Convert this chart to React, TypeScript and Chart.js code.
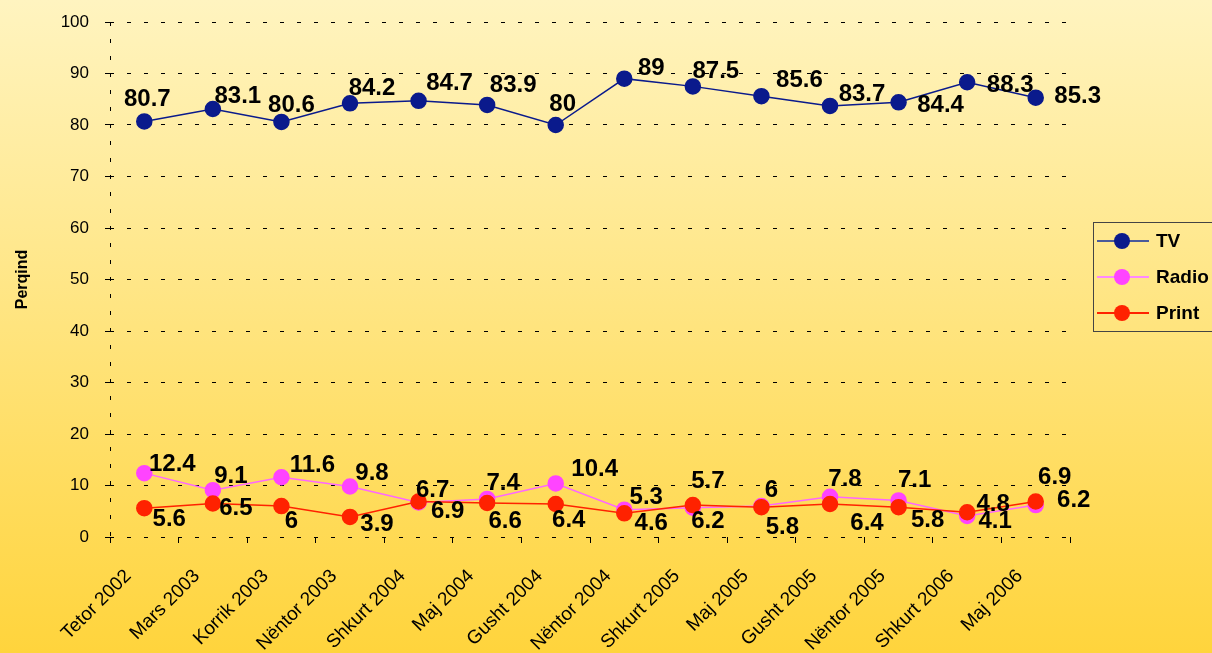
import React, { useEffect, useRef } from "react";
import { Chart, registerables } from "chart.js";

Chart.register(...registerables);

const categories = [
  "Tetor 2002", "Mars 2003", "Korrik 2003", "Nëntor 2003", "Shkurt 2004", "Maj 2004", "Gusht 2004",
  "Nëntor 2004", "Shkurt 2005", "Maj 2005", "Gusht 2005", "Nëntor 2005", "Shkurt 2006", "Maj 2006",
];
const tvValues = [80.7, 83.1, 80.6, 84.2, 84.7, 83.9, 80, 89, 87.5, 85.6, 83.7, 84.4, 88.3, 85.3];
const radioValues = [12.4, 9.1, 11.6, 9.8, 6.7, 7.4, 10.4, 5.3, 5.7, 6, 7.8, 7.1, 4.1, 6.2];
const printValues = [5.6, 6.5, 6, 3.9, 6.9, 6.6, 6.4, 4.6, 6.2, 5.8, 6.4, 5.8, 4.8, 6.9];
const seriesNames = ["TV", "Radio", "Print"];
const yTitle = "Perqind";

// label placement offsets (px) relative to each point: layout only
const tvLabelOffsets = [[3,-22],[25,-13],[10,-17],[22,-15],[31,-17],[26,-20],[7,-21],[27,-10],[23,-15],[38,-16],[32,-12],[42,3],[43,3],[42,-1]];
const radioLabelOffsets = [[28,-9],[18,-14],[31,-12],[22,-13],[14,-12],[16,-16],[39,-14],[22,-12],[15,-26],[10,-16],[15,-17],[16,-20],[28,5],[38,-5]];
const printLabelOffsets = [[25,11],[23,5],[10,15],[27,7],[29,10],[18,18],[13,16],[27,10],[15,16],[21,20],[37,19],[29,13],[26,-8],[19,-24]];

const TV_COLOR = "#0a1a8c";
const RADIO_COLOR = "#ff44ff";
const PRINT_COLOR = "#ff2200";
const FONT = "'Liberation Sans', Arial, sans-serif";

const labelPlugin = {
  id: "pointLabels",
  afterDatasetsDraw(chart: any) {
    const ctx = chart.ctx;
    const offsetsList = [tvLabelOffsets, radioLabelOffsets, printLabelOffsets];
    ctx.save();
    ctx.font = `bold 24px ${FONT}`;
    ctx.fillStyle = "#000";
    ctx.textAlign = "center";
    ctx.textBaseline = "middle";
    chart.data.datasets.forEach((ds: any, di: number) => {
      const meta = chart.getDatasetMeta(di);
      meta.data.forEach((pt: any, i: number) => {
        const off = offsetsList[di][i];
        ctx.fillText(String(ds.data[i]), pt.x + off[0], pt.y + off[1]);
      });
    });
    ctx.restore();
  },
};

function LegendItem({ name, color, lineColor }: { name: string; color: string; lineColor: string }) {
  return (
    <div style={{ display: "flex", alignItems: "center", height: 36 }}>
      <div style={{ position: "relative", width: 52, height: 16, marginLeft: 3 }}>
        <div style={{ position: "absolute", left: 0, right: 0, top: 7, height: 2, background: lineColor }} />
        <div style={{ position: "absolute", left: 17, top: 0, width: 16, height: 16, borderRadius: 8, background: color }} />
      </div>
      <span style={{ marginLeft: 7, font: `bold 19px ${FONT}`, color: "#000" }}>{name}</span>
    </div>
  );
}

export default function App() {
  const ref = useRef<HTMLCanvasElement>(null);
  useEffect(() => {
    if (!ref.current) return;
    const chart = new Chart(ref.current, {
      type: "line",
      data: {
        labels: categories,
        datasets: [
          { label: seriesNames[0], data: tvValues, borderColor: TV_COLOR, backgroundColor: TV_COLOR, borderWidth: 1.5, pointRadius: 7.5, pointBorderColor: TV_COLOR, pointBackgroundColor: TV_COLOR, order: 0 },
          { label: seriesNames[1], data: radioValues, borderColor: "#ff66ff", backgroundColor: RADIO_COLOR, borderWidth: 1.5, pointRadius: 7.5, pointBorderColor: RADIO_COLOR, pointBackgroundColor: RADIO_COLOR, order: 2 },
          { label: seriesNames[2], data: printValues, borderColor: PRINT_COLOR, backgroundColor: PRINT_COLOR, borderWidth: 1.5, pointRadius: 7.5, pointBorderColor: PRINT_COLOR, pointBackgroundColor: PRINT_COLOR, order: 1 },
        ],
      },
      options: {
        responsive: false,
        animation: false,
        layout: { padding: { top: 22, right: 142, left: 0, bottom: 0 } },
        plugins: { legend: { display: false }, tooltip: { enabled: false } },
        scales: {
          x: {
            offset: true,
            grid: {
              display: true,
              drawOnChartArea: true,
              drawTicks: true,
              tickLength: 6,
              offset: true,
              color: (c: any) => (c.index === 0 ? "#000" : "rgba(0,0,0,0)"),
              tickColor: "#000",
            },
            border: { display: false, dash: [4, 13] },
            ticks: { color: "#000", font: { family: FONT, size: 19 }, minRotation: 45, maxRotation: 45, autoSkip: false, padding: 22, labelOffset: -16 },
            afterFit: (s: any) => { s.height = 116; s.paddingTop = 0; },
          },
          y: {
            min: 0,
            max: 100,
            ticks: { stepSize: 10, color: "#000", font: { family: FONT, size: 17 }, padding: 16 },
            grid: { color: "#000", lineWidth: 1, tickLength: 5, drawTicks: true, tickColor: "#000" },
            border: { display: false, color: "#000", dash: [4, 13] },
            title: { display: true, text: yTitle, color: "#000", font: { family: FONT, size: 16, weight: "bold" }, padding: { top: 13, bottom: 0 } },
            afterFit: (s: any) => { s.width = 110; s.paddingTop = 0; s.paddingBottom = 0; },
          },
        },
      },
      plugins: [labelPlugin],
    } as any);
    return () => chart.destroy();
  }, []);

  return (
    <div style={{ position: "fixed", left: 0, top: 0, width: 1212, height: 653, background: "linear-gradient(#fff4c0, #ffd43c)", overflow: "hidden" }}>
      <canvas ref={ref} width={1212} height={653} style={{ display: "block" }} />
      <div style={{ position: "absolute", left: 1093, top: 222, width: 140, height: 110, border: "1px solid #444", boxSizing: "border-box" }}>
        <LegendItem name={seriesNames[0]} color={TV_COLOR} lineColor="#4a5a9a" />
        <LegendItem name={seriesNames[1]} color={RADIO_COLOR} lineColor="#ff88ff" />
        <LegendItem name={seriesNames[2]} color={PRINT_COLOR} lineColor={PRINT_COLOR} />
      </div>
    </div>
  );
}
